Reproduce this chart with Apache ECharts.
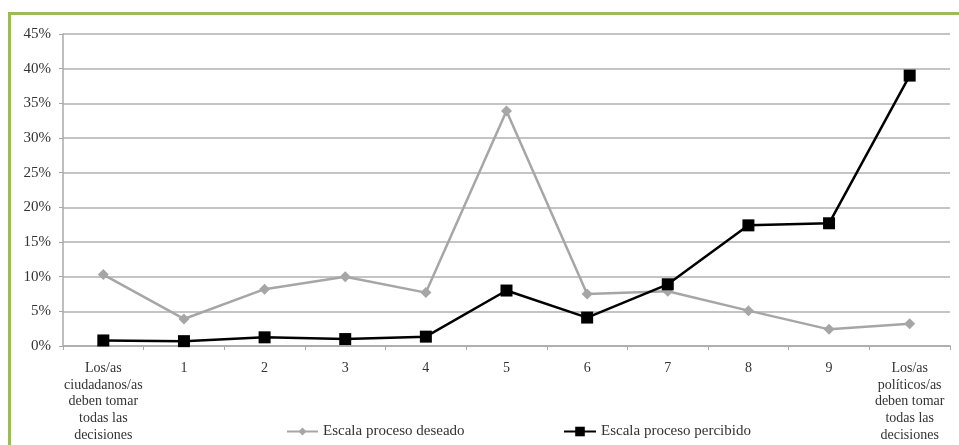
<!DOCTYPE html>
<html>
<head>
<meta charset="utf-8">
<script src="https://cdn.jsdelivr.net/npm/echarts@6/dist/echarts.min.js"></script>
<style>
html,body{margin:0;padding:0;background:#fff;}
#c{width:959px;height:445px;}
</style>
</head>
<body>
<div id="c"></div>
<script>
const categories = [
  'Los/as\nciudadanos/as\ndeben tomar\ntodas las\ndecisiones',
  '1','2','3','4','5','6','7','8','9',
  'Los/as\npolíticos/as\ndeben tomar\ntodas las\ndecisiones'
];
const seriesNames = ['Escala proceso deseado', 'Escala proceso percibido'];
const deseado = [10.3, 3.9, 8.2, 10.0, 7.7, 33.9, 7.5, 7.9, 5.1, 2.4, 3.2];
const percibido = [0.8, 0.7, 1.25, 1.0, 1.35, 8.0, 4.1, 8.9, 17.4, 17.7, 39.0];
const yTicks = { min: 0, max: 45, interval: 5 };

const font = 'Liberation Serif';
const chart = echarts.init(document.getElementById('c'));
chart.setOption({
  animation: false,
  backgroundColor: '#ffffff',
  graphic: [
    { type: 'rect', shape: { x: 8, y: 12, width: 951, height: 3 }, style: { fill: '#9bbb59' }, silent: true },
    { type: 'rect', shape: { x: 8, y: 12, width: 3, height: 433 }, style: { fill: '#9bbb59' }, silent: true }
  ],
  grid: { left: 63, right: 9, top: 34, bottom: 99, containLabel: false },
  legend: [
    {
      data: [seriesNames[0]], left: 281, top: 419,
      itemWidth: 31, itemHeight: 10,
      textStyle: { fontFamily: font, fontSize: 15, color: '#333' }
    },
    {
      data: [seriesNames[1]], left: 558, top: 419,
      itemWidth: 32, itemHeight: 12,
      textStyle: { fontFamily: font, fontSize: 15, color: '#333' }
    }
  ],
  xAxis: {
    type: 'category',
    data: categories,
    boundaryGap: true,
    axisLine: { show: true, lineStyle: { color: '#a8a8a8', width: 1.5 } },
    axisTick: { show: true, length: 4, lineStyle: { color: '#a8a8a8', width: 1 } },
    axisLabel: { fontFamily: font, fontSize: 14, color: '#333', lineHeight: 16.7, margin: 14, interval: 0 }
  },
  yAxis: {
    type: 'value',
    min: yTicks.min, max: yTicks.max, interval: yTicks.interval,
    axisLine: { show: true, lineStyle: { color: '#a8a8a8', width: 1.5 } },
    axisTick: { show: true, length: 4, lineStyle: { color: '#a8a8a8' } },
    splitLine: { show: true, lineStyle: { color: '#b0b0b0', width: 1.5 } },
    axisLabel: { fontFamily: font, fontSize: 15, color: '#333', margin: 12, formatter: '{value}%' }
  },
  series: [
    {
      name: seriesNames[0], type: 'line', data: deseado,
      symbol: 'diamond', symbolSize: 11,
      lineStyle: { color: '#a6a6a6', width: 2.5 },
      itemStyle: { color: '#a6a6a6' }
    },
    {
      name: seriesNames[1], type: 'line', data: percibido,
      symbol: 'rect', symbolSize: 12,
      lineStyle: { color: '#000000', width: 2.5 },
      itemStyle: { color: '#000000' },
      z: 3
    }
  ]
});
</script>
</body>
</html>
